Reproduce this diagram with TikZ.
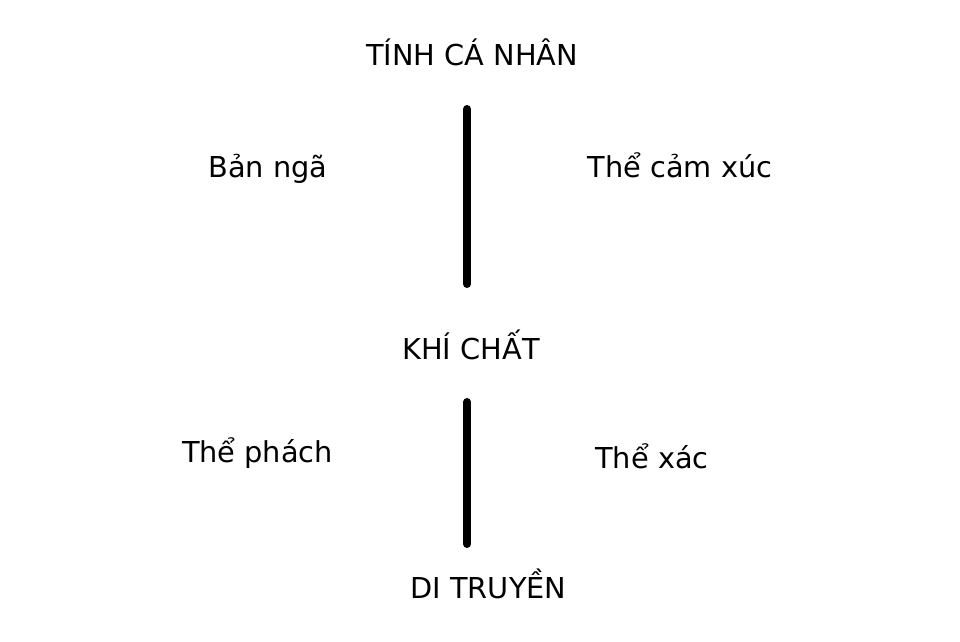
\documentclass[tikz,border=0pt]{standalone}
\usepackage{fontspec}
\setmainfont{DejaVu Sans}
\begin{document}
\begin{tikzpicture}
[x=0.75pt, y=-0.75pt,
  labeldecorate/.style={anchor=base,inner sep=0pt,font=\fontsize{21.6}{26}\selectfont},%
  linedecorate/.style={-,line width=6pt,line cap=round}]
\useasboundingbox (0,0) rectangle (960,642);
%% labels
\foreach \nodename/\x/\y/\txt in {tinh/472/65/TÍNH CÁ NHÂN, bannga/268/177/Bản ngã,
  camxuc/680/177/Thể cảm xúc, khichat/471/359/KHÍ CHẤT, phach/257.5/462/Thể phách,
  xac/652/468/Thể xác, ditruyen/488.5/598/DI TRUYỀN} {
  \node (\nodename) at (\x,\y) [labeldecorate] {\txt};
}
%% line ends
\coordinate (upperTop) at (467,109);
\coordinate (upperBottom) at (467,284);
\coordinate (lowerTop) at (467,402);
\coordinate (lowerBottom) at (467,544);
%% bars
\path
\foreach \startnode/\endnode in {upperTop/upperBottom, lowerTop/lowerBottom} {
  (\startnode) edge[linedecorate] (\endnode)
};
\end{tikzpicture}
\end{document}
